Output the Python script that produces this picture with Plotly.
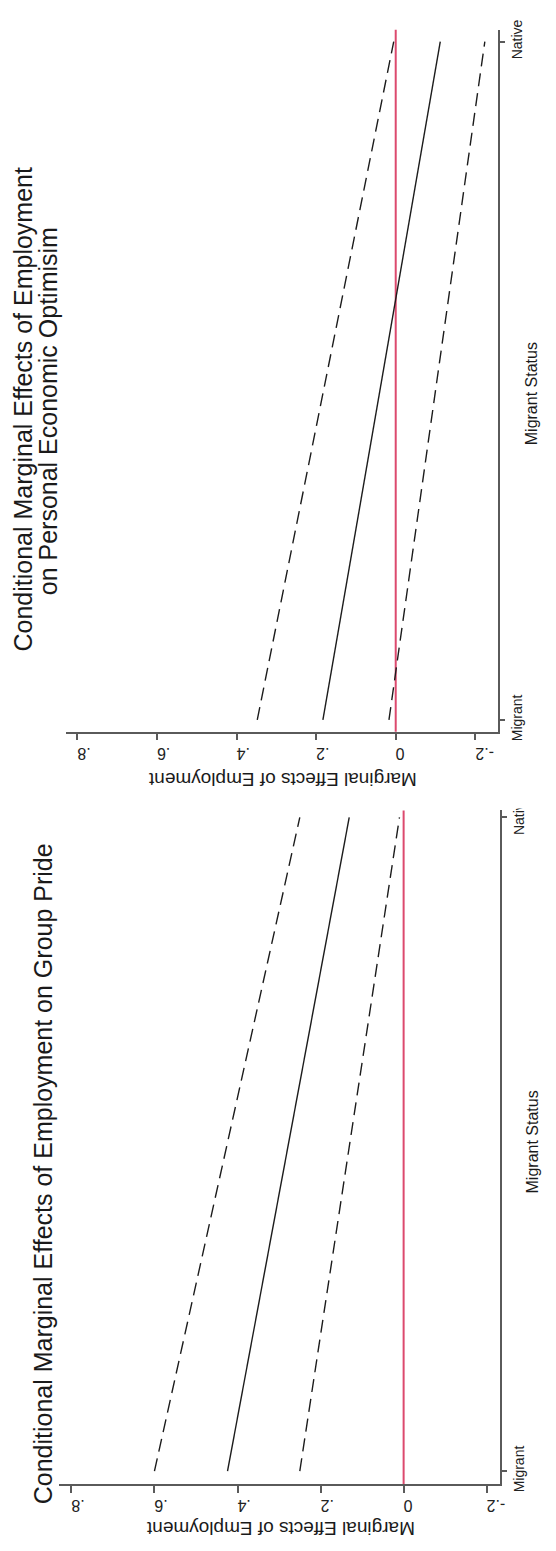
import plotly.graph_objects as go

# Migrant status categories (0 = Migrant, 1 = Native)
status_labels = ["Migrant", "Native"]
status_pos = [0, 1]

# Conditional marginal effects of employment on personal economic optimism
optimism_effect = [0.183, -0.112]
optimism_lower = [0.017, -0.224]
optimism_upper = [0.348, 0.005]

# Conditional marginal effects of employment on group pride
pride_effect = [0.424, 0.131]
pride_lower = [0.250, 0.010]
pride_upper = [0.600, 0.250]

effect_tickvals = [0.8, 0.6, 0.4, 0.2, 0.0, -0.2]
effect_ticktext = [".8", ".6", ".4", ".2", "0", "-.2"]

W, H = 556, 1551
FONT = "Liberation Sans, Arial, Helvetica, sans-serif"
LINE = "#1c1c1c"
AXIS = "#5a5a5a"
REF = "#dc4a6e"
DASH = "13px,7px"


def fx(px):
    return px / W


def fy(py):
    return 1 - py / H


fig = go.Figure()

panels = [
    dict(xa="x", ya="y", est=optimism_effect, lo=optimism_lower, hi=optimism_upper),
    dict(xa="x2", ya="y2", est=pride_effect, lo=pride_lower, hi=pride_upper),
]

for p in panels:
    for vals, dash in ((p["hi"], DASH), (p["est"], "solid"), (p["lo"], DASH)):
        fig.add_trace(go.Scatter(
            x=vals, y=status_pos, mode="lines",
            line=dict(color=LINE, width=1.4, dash=dash),
            xaxis=p["xa"], yaxis=p["ya"], showlegend=False, hoverinfo="skip",
        ))
    # reference line at zero effect
    fig.add_shape(type="line", xref=p["xa"], yref=p["ya"] + " domain",
                  x0=0, x1=0, y0=0, y1=1, layer="below",
                  line=dict(color=REF, width=2))

xaxis_common = dict(
    showline=True, linecolor=AXIS, linewidth=1.5, mirror=False,
    ticks="outside", ticklen=7, tickwidth=1.5, tickcolor=AXIS,
    tickvals=effect_tickvals, ticktext=effect_ticktext, tickangle=180,
    ticklabelstandoff=4,
    tickfont=dict(family=FONT, size=16, color="#222"),
    showgrid=False, zeroline=False, fixedrange=True,
)
yaxis_common = dict(
    side="right", showline=True, linecolor=AXIS, linewidth=1.5, mirror=False,
    ticks="outside", ticklen=6, tickwidth=1.5, tickcolor=AXIS,
    tickvals=status_pos, ticktext=status_labels, tickangle=-90,
    tickfont=dict(family=FONT, size=14, color="#222"),
    showgrid=False, zeroline=False, fixedrange=True,
)

fig.update_layout(
    width=W, height=H,
    margin=dict(l=0, r=0, t=0, b=0),
    paper_bgcolor="white", plot_bgcolor="white",
    showlegend=False,
    xaxis=dict(xaxis_common, domain=[fx(67), fx(503)], range=[0.828, -0.256], anchor="y"),
    yaxis=dict(yaxis_common, domain=[fy(728), fy(15)], range=[-0.0174, 1.0174], anchor="x"),
    xaxis2=dict(xaxis_common, domain=[fx(60), fx(505)], range=[0.829, -0.231], anchor="y2"),
    yaxis2=dict(yaxis_common, domain=[fy(1492), fy(808)], range=[-0.0196, 1.0105], anchor="x2"),
)

# the lower panel's top edge trims its "Native" label
fig.add_shape(type="rect", xref="paper", yref="paper",
              x0=fx(508), x1=1, y0=fy(806), y1=fy(782),
              fillcolor="white", line=dict(width=0), layer="above")


def text(label, x, y, size, angle):
    fig.add_annotation(
        text=label, x=fx(x), y=fy(y), xref="paper", yref="paper",
        xanchor="center", yanchor="middle", showarrow=False,
        textangle=angle, font=dict(family=FONT, size=size, color="#1a1a1a"),
    )


# titles
text("Conditional Marginal Effects of Employment", 23, 400, 25, -90)
text("on Personal Economic Optimisim", 48, 402, 25, -90)
text("Conditional Marginal Effects of Employment on Group Pride", 43, 1177, 25, -90)

# axis titles
text("Marginal Effects of Employment", 285, 776, 19, 180)
text("Marginal Effects of Employment", 283, 1538, 19, 180)
text("Migrant Status", 537, 385, 16, -90)
text("Migrant Status", 538, 1145, 16, -90)

fig.write_html("out.html")
